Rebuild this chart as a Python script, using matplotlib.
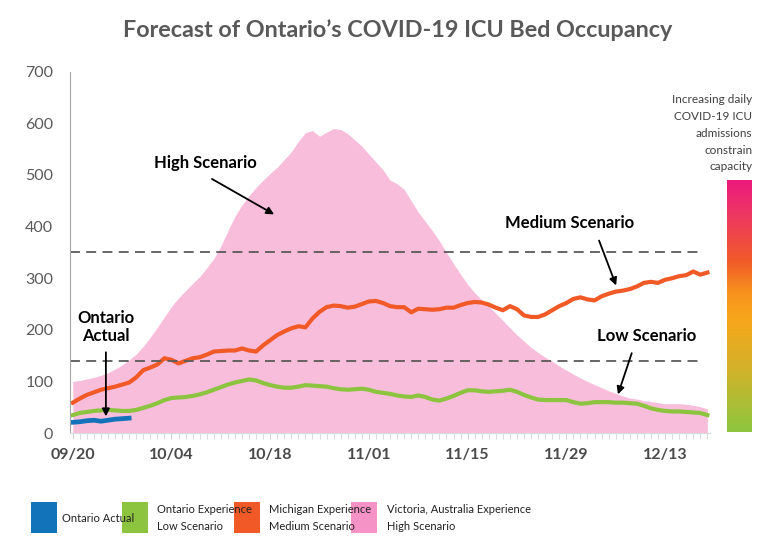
import numpy as np
import matplotlib
matplotlib.use("Agg")
import matplotlib.pyplot as plt
from matplotlib.colors import LinearSegmentedColormap
from matplotlib.patches import Rectangle

plt.rcParams['font.family'] = ['Lato', 'DejaVu Sans']

# --- data (one value per day from 09/20) ---
high = [100, 102, 105, 108, 112, 117, 124, 132, 142, 153, 168, 186, 205, 225, 245,
        262, 276, 290, 303, 320, 338, 362, 392, 420, 442, 460, 476, 490, 503, 515,
        530, 545, 565, 582, 586, 575, 583, 590, 588, 580, 568, 556, 540, 525, 510,
        490, 483, 472, 450, 428, 410, 392, 372, 350, 328, 308, 288, 272, 258, 246,
        232, 218, 204, 190, 178, 166, 156, 147, 139, 130, 122, 114, 107, 100, 94,
        88, 82, 77, 72, 68, 66, 63, 61, 59, 57, 57, 57, 56, 54, 51, 47]
medium = [59, 67, 74, 79, 84, 87, 90, 94, 98, 108, 122, 127, 133, 145, 142,
          135, 140, 145, 147, 152, 158, 159, 160, 160, 164, 160, 158, 170, 180, 190,
          197, 203, 207, 205, 222, 235, 244, 247, 246, 243, 245, 250, 255, 256, 252,
          246, 244, 244, 234, 241, 240, 239, 240, 243, 243, 248, 252, 254, 253, 249,
          243, 238, 246, 240, 228, 225, 225, 230, 238, 246, 252, 260, 263, 259, 257,
          265, 270, 274, 276, 279, 284, 291, 293, 291, 297, 300, 304, 306, 313, 307, 311]
low = [35, 39, 41, 43, 44, 45, 44, 43, 43, 45, 49, 53, 58, 64, 68,
       69, 70, 72, 75, 79, 84, 89, 94, 98, 101, 104, 102, 97, 93, 90,
       88, 88, 90, 93, 92, 91, 90, 87, 85, 84, 85, 86, 84, 80, 78,
       76, 73, 71, 70, 73, 70, 65, 63, 67, 72, 78, 83, 83, 81, 80,
       81, 82, 84, 80, 74, 69, 65, 64, 64, 64, 64, 60, 57, 58, 60,
       60, 60, 59, 59, 58, 57, 53, 48, 45, 43, 42, 42, 41, 40, 39, 35]
actual = [21, 22, 24, 25, 23, 25, 27, 28, 29]

thresholds = [140, 350]
tick_days = [0, 14, 28, 42, 56, 70, 84]
tick_labels = ["09/20", "10/04", "10/18", "11/01", "11/15", "11/29", "12/13"]

legend_labels = ["Ontario Actual", "Ontario Experience\nLow Scenario",
                 "Michigan Experience\nMedium Scenario",
                 "Victoria, Australia Experience\nHigh Scenario"]

c_blue = "#1273BA"
c_green = "#8CC43F"
c_orange = "#F15A26"
c_pink = "#F8BDDB"
c_pink_leg = "#F592C6"

days = np.arange(len(high))

fig = plt.figure(figsize=(7.77, 5.56), dpi=100)
ax = fig.add_axes([0.090, 0.221, 0.824, 0.650])

ax.fill_between(days, 0, high, color=c_pink, lw=0)
ax.plot(days, low, color=c_green, lw=3)
ax.plot(days, medium, color=c_orange, lw=3)
ax.plot(days[:len(actual)], actual, color=c_blue, lw=3.4)
ax.hlines(thresholds, -0.4, 89.3, colors="#5a5a5a", lw=1.3,
          linestyles=(0, (5.5, 3.5)))

ax.set_xlim(-0.4, 90.4)
ax.set_ylim(0, 700)
ax.set_yticks(range(0, 701, 100))
ax.set_xticks(tick_days)
ax.set_xticklabels(tick_labels, fontweight="bold", color="#4a4a4a", fontsize=11.5)
ax.set_xticks(days, minor=True)
ax.tick_params(axis="y", length=0, pad=12, labelsize=11.5, labelcolor="#5a5a5a")
ax.tick_params(axis="x", which="both", direction="out", length=4,
               color="#d4d4d4", pad=7)

for side in ["top", "right"]:
    ax.spines[side].set_visible(False)
ax.spines["left"].set_color("#a6a6a6")
ax.spines["bottom"].set_color("#d9d9d9")

arrow = dict(arrowstyle="-|>", color="black", lw=1.3, mutation_scale=11)
txt = dict(fontsize=12, fontweight="bold", color="black", ha="center", va="center")
ax.annotate("", xy=(28.9, 421), xytext=(19.4, 495), arrowprops=arrow)
ax.text(18.8, 524, "High Scenario", **txt)
ax.annotate("", xy=(77.2, 281), xytext=(74.5, 378), arrowprops=arrow)
ax.text(70.5, 407, "Medium Scenario", **txt)
ax.annotate("", xy=(77.2, 70), xytext=(79.4, 160), arrowprops=arrow)
ax.text(81.4, 189, "Low Scenario", **txt)
ax.annotate("", xy=(4.7, 27), xytext=(4.7, 162), arrowprops=arrow)
ax.text(4.7, 205, "Ontario\nActual", linespacing=1.15, **txt)

fig.text(0.512, 0.946, "Forecast of Ontario\u2019s COVID-19 ICU Bed Occupancy",
         ha="center", va="center", fontsize=16.8, fontweight="bold", color="#595959")

# capacity colour bar
cmap = LinearSegmentedColormap.from_list(
    "cap", [(0.0, "#8DC63F"), (0.25, "#D2B22A"), (0.45, "#F8A61B"),
            (0.55, "#F7941D"), (0.68, "#F15A29"), (0.85, "#EE3A5E"),
            (1.0, "#EC1A7E")])
cax = fig.add_axes([0.936, 0.223, 0.032, 0.453])
cax.imshow(np.linspace(0, 1, 256).reshape(-1, 1), cmap=cmap, aspect="auto",
           origin="lower")
cax.axis("off")
fig.text(0.968, 1 - 94 / 556,
         "Increasing daily\nCOVID-19 ICU\nadmissions\nconstrain\ncapacity",
         ha="right", va="top", fontsize=8.5, color="#404040", linespacing=1.65)

# legend
leg_colors = [c_blue, c_green, c_orange, c_pink_leg]
leg_x = [31, 122, 234, 351]
text_x = [62, 157, 269, 387]
for lab, col, x0, tx in zip(legend_labels, leg_colors, leg_x, text_x):
    fig.add_artist(Rectangle((x0 / 777, 1 - 533 / 556), 26 / 777, 31 / 556,
                             transform=fig.transFigure, color=col, lw=0))
    fig.text(tx / 777, 1 - 518 / 556, lab, ha="left", va="center",
             fontsize=8, color="#222222", linespacing=1.6)

fig.savefig("out.png", dpi=100)
